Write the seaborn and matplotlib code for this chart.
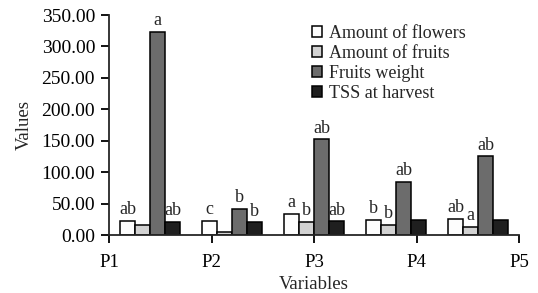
import numpy as np
import pandas as pd
import matplotlib
matplotlib.use("Agg")
import matplotlib.pyplot as plt
import seaborn as sns
from matplotlib.patches import Patch

groups = ["P1", "P2", "P3", "P4", "P5"]
series = ["Amount of flowers", "Amount of fruits", "Fruits weight", "TSS at harvest"]
flowers = [22.5, 22.5, 33.0, 23.5, 26.0]
fruits = [15.5, 5.0, 21.0, 15.5, 12.5]
weight = [323.0, 41.0, 152.0, 84.0, 125.0]
tss = [21.0, 20.0, 21.5, 24.5, 24.5]
letters_flowers = ["ab", "c", "a", "b", "ab"]
letters_fruits = ["", "", "b", "b", "a"]
letters_weight = ["a", "b", "ab", "ab", "ab"]
letters_tss = ["ab", "b", "ab", "", ""]
colors = ["#fdfdfd", "#d2d2d2", "#6c6c6c", "#1f1f1f"]
yticks = [0, 50, 100, 150, 200, 250, 300, 350]

values = [flowers, fruits, weight, tss]
letters = [letters_flowers, letters_fruits, letters_weight, letters_tss]

rows = []
for s, vals in zip(series, values):
    for g, v in zip(groups, vals):
        rows.append({"Group": g, "Series": s, "Value": v})
df = pd.DataFrame(rows)

sns.set_style("ticks")
plt.rcParams["font.family"] = ["Liberation Serif", "DejaVu Serif"]
plt.rcParams["axes.linewidth"] = 1.3

fig = plt.figure(figsize=(5.38, 2.93), dpi=100)
ax = fig.add_axes([109 / 538, 1 - 235 / 293, (519 - 109) / 538, (235 - 15) / 293])

sns.barplot(data=df, x="Group", y="Value", hue="Series", order=groups,
            hue_order=series, palette=colors, edgecolor="black",
            linewidth=1.1, width=0.73, saturation=1, ax=ax, legend=False)

for cont, labs in zip(ax.containers, letters):
    for bar, lab in zip(cont, labs):
        if lab:
            ax.annotate(lab, (bar.get_x() + bar.get_width() / 2, bar.get_height()),
                        xytext=(0, 2), textcoords="offset points",
                        ha="center", va="bottom", fontsize=13)

ax.set_xlim(-0.5, 4.5)
ax.set_ylim(0, 350)
ax.set_yticks(yticks)
ax.set_yticklabels([f"{t:.2f}" for t in yticks], fontsize=14)
ax.set_xticks(np.linspace(-0.5, 4.5, len(groups)))
ax.set_xticklabels(groups, fontsize=13.5)
ax.tick_params(axis="both", direction="out", length=6, width=1.3, colors="black")
ax.tick_params(axis="y", pad=4)
ax.tick_params(axis="x", pad=8)
sns.despine(ax=ax)
ax.set_xlabel("Variables", fontsize=13.5, labelpad=3)
ax.set_ylabel("Values", fontsize=13.5, labelpad=6)

handles = [Patch(facecolor=c, edgecolor="black", linewidth=1.1) for c in colors]
fig.legend(handles, series, loc="upper left", bbox_to_anchor=(312 / 538, 1 - 25 / 293),
           bbox_transform=fig.transFigure, frameon=False, fontsize=13,
           handlelength=0.55, handleheight=0.55, handletextpad=0.4,
           labelspacing=0.17, borderpad=0, borderaxespad=0)

fig.savefig("out.png", dpi=100)
